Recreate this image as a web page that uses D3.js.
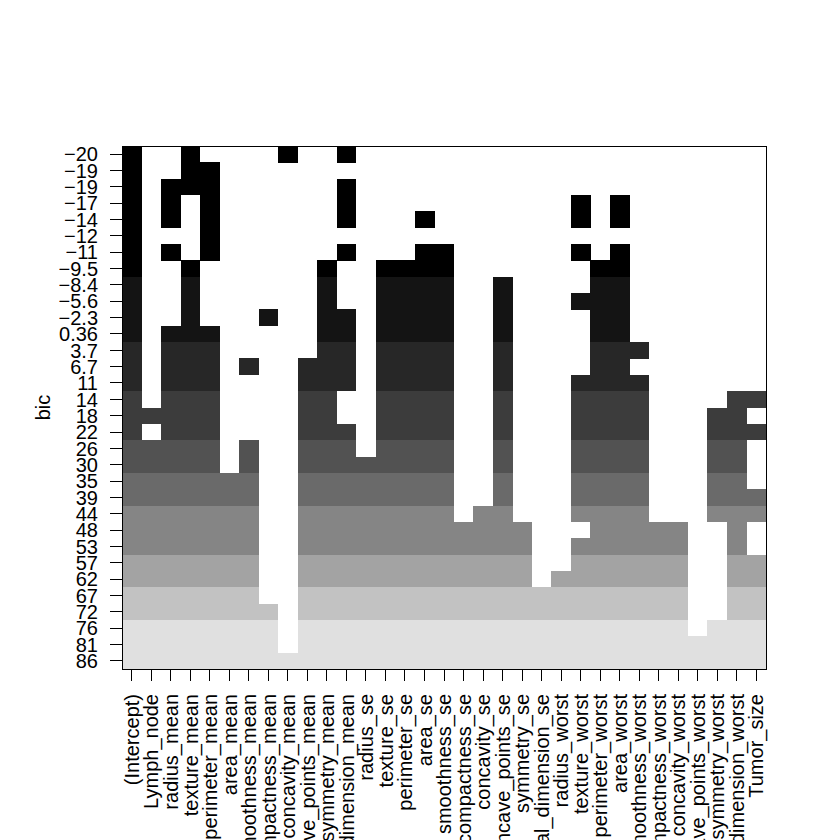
<!DOCTYPE html>
<html>
<head>
<meta charset="utf-8">
<script src="https://cdn.jsdelivr.net/npm/d3@7"></script>
<style>
  html, body { margin: 0; padding: 0; background: #ffffff; }
  svg text { font-family: "Liberation Sans", Arial, Helvetica, sans-serif; }
</style>
</head>
<body>
<svg id="chart" width="840" height="840"></svg>
<script>
// ---- data ----
const variables = ["(Intercept)", "Lymph_node", "radius_mean", "texture_mean", "perimeter_mean",
  "area_mean", "smoothness_mean", "compactness_mean", "concavity_mean", "concave_points_mean",
  "symmetry_mean", "fractal_dimension_mean", "radius_se", "texture_se", "perimeter_se", "area_se",
  "smoothness_se", "compactness_se", "concavity_se", "concave_points_se", "symmetry_se",
  "fractal_dimension_se", "radius_worst", "texture_worst", "perimeter_worst", "area_worst",
  "smoothness_worst", "compactness_worst", "concavity_worst", "concave_points_worst",
  "symmetry_worst", "fractal_dimension_worst", "Tumor_size"];

// BIC of each model, best (top row) to worst (bottom row)
const bic = [-20, -19, -19, -17, -14, -12, -11, -9.5, -8.4, -5.6, -2.3, 0.36, 3.7, 6.7, 11,
  14, 18, 22, 26, 30, 35, 39, 44, 48, 53, 57, 62, 67, 72, 76, 81, 86];

// variables (column indices) included in each model, same order as bic
const selected = [
  [0,3,8,11],
  [0,3,4],
  [0,2,3,4,11],
  [0,2,4,11,23,25],
  [0,2,4,11,15,23,25],
  [0,4],
  [0,2,4,11,15,16,23,25],
  [0,3,10,13,14,15,16,24,25],
  [0,3,10,13,14,15,16,19,24,25],
  [0,3,10,13,14,15,16,19,23,24,25],
  [0,3,7,10,11,13,14,15,16,19,24,25],
  [0,2,3,4,10,11,13,14,15,16,19,24,25],
  [0,2,3,4,10,11,13,14,15,16,19,24,25,26],
  [0,2,3,4,6,9,10,11,13,14,15,16,19,24,25],
  [0,2,3,4,9,10,11,13,14,15,16,19,23,24,25,26],
  [0,2,3,4,9,10,13,14,15,16,19,23,24,25,26,31,32],
  [0,1,2,3,4,9,10,13,14,15,16,19,23,24,25,26,30,31],
  [0,2,3,4,9,10,11,13,14,15,16,19,23,24,25,26,30,31,32],
  [0,1,2,3,4,6,9,10,11,13,14,15,16,19,23,24,25,26,30,31],
  [0,1,2,3,4,6,9,10,11,12,13,14,15,16,19,23,24,25,26,30,31],
  [0,1,2,3,4,5,6,9,10,11,12,13,14,15,16,19,23,24,25,26,30,31],
  [0,1,2,3,4,5,6,9,10,11,12,13,14,15,16,19,23,24,25,26,30,31,32],
  [0,1,2,3,4,5,6,9,10,11,12,13,14,15,16,18,19,23,24,25,26,30,31,32],
  [0,1,2,3,4,5,6,9,10,11,12,13,14,15,16,17,18,19,20,24,25,26,27,28,31],
  [0,1,2,3,4,5,6,9,10,11,12,13,14,15,16,17,18,19,20,23,24,25,26,27,28,31],
  [0,1,2,3,4,5,6,9,10,11,12,13,14,15,16,17,18,19,20,23,24,25,26,27,28,31,32],
  [0,1,2,3,4,5,6,9,10,11,12,13,14,15,16,17,18,19,20,22,23,24,25,26,27,28,31,32],
  [0,1,2,3,4,5,6,9,10,11,12,13,14,15,16,17,18,19,20,21,22,23,24,25,26,27,28,31,32],
  [0,1,2,3,4,5,6,7,9,10,11,12,13,14,15,16,17,18,19,20,21,22,23,24,25,26,27,28,31,32],
  [0,1,2,3,4,5,6,7,9,10,11,12,13,14,15,16,17,18,19,20,21,22,23,24,25,26,27,28,30,31,32],
  [0,1,2,3,4,5,6,7,9,10,11,12,13,14,15,16,17,18,19,20,21,22,23,24,25,26,27,28,29,30,31,32],
  [0,1,2,3,4,5,6,7,8,9,10,11,12,13,14,15,16,17,18,19,20,21,22,23,24,25,26,27,28,29,30,31,32]
];

const grays = ["#000000", "#141414", "#272727", "#3c3c3c", "#525252",
               "#6a6a6a", "#858585", "#a3a3a3", "#c2c2c2", "#e0e0e0"];
const yTitle = "bic";

(function draw() {
  // ---- layout ----
  const pl = 122, pr = 766, pt = 146, pb = 669;
  const fs = 20;
  const svg = d3.select("#chart");

  const x = d3.scaleBand().domain(variables).range([pl, pr]).padding(0);
  const y = d3.scaleBand().domain(d3.range(bic.length)).range([pt, pb]).padding(0);
  const color = d3.scaleQuantize().domain(d3.extent(bic)).range(grays);
  const fmt = d3.format(".2");

  // cells
  const cells = [];
  selected.forEach((cols, r) => cols.forEach(c => cells.push({ r, v: variables[c] })));

  svg.append("g")
    .attr("shape-rendering", "crispEdges")
    .selectAll("rect")
    .data(cells)
    .join("rect")
    .attr("x", d => x(d.v))
    .attr("y", d => y(d.r))
    .attr("width", x.bandwidth() + 0.3)
    .attr("height", y.bandwidth() + 0.3)
    .attr("fill", d => color(bic[d.r]));

  // box
  svg.append("rect")
    .attr("x", pl).attr("y", pt)
    .attr("width", pr - pl).attr("height", pb - pt)
    .attr("fill", "none").attr("stroke", "#000").attr("stroke-width", 1)
    .attr("shape-rendering", "crispEdges");

  // y axis
  const yAxis = svg.append("g")
    .attr("transform", `translate(${pl},0)`)
    .call(d3.axisLeft(y).tickSize(12).tickPadding(12).tickFormat(i => fmt(bic[i])));
  yAxis.select(".domain").remove();
  yAxis.selectAll("line").attr("stroke", "#000").attr("shape-rendering", "crispEdges");
  yAxis.selectAll("text")
    .attr("font-size", fs)
    .attr("font-family", "Liberation Sans, Arial, sans-serif")
    .attr("dy", "0.36em")
    .attr("fill", "#000");

  // x axis
  const xAxis = svg.append("g")
    .attr("transform", `translate(0,${pb})`)
    .call(d3.axisBottom(x).tickSize(12));
  xAxis.select(".domain").remove();
  xAxis.selectAll("line").attr("stroke", "#000").attr("shape-rendering", "crispEdges");
  xAxis.selectAll("text")
    .attr("transform", "rotate(-90)")
    .attr("x", -25)
    .attr("y", 0)
    .attr("dy", "0.36em")
    .attr("text-anchor", "end")
    .attr("font-size", fs)
    .attr("font-family", "Liberation Sans, Arial, sans-serif")
    .attr("fill", "#000");

  // y title
  svg.append("text")
    .attr("transform", `translate(50,${(pt + pb) / 2}) rotate(-90)`)
    .attr("text-anchor", "middle")
    .attr("font-size", fs)
    .attr("fill", "#000")
    .text(yTitle);
})();
</script>
</body>
</html>
